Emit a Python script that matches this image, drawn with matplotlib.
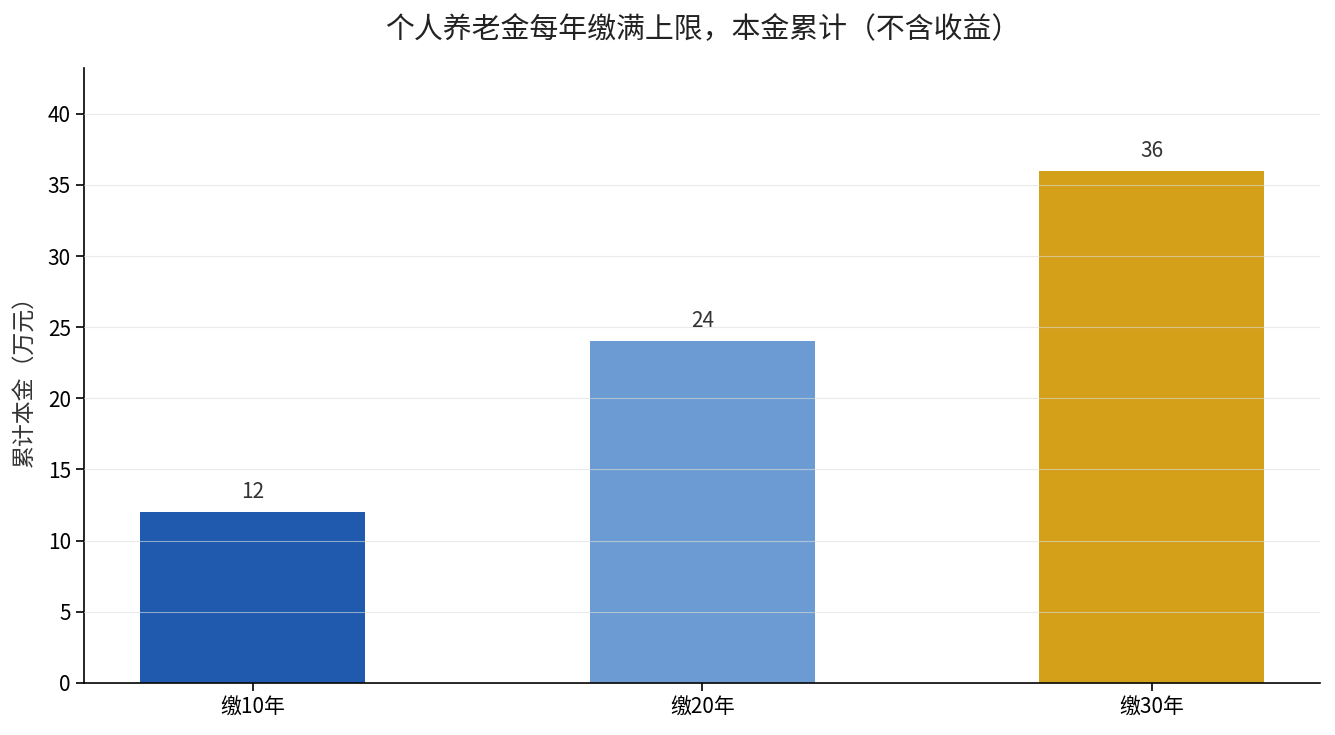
import matplotlib
matplotlib.use("Agg")
import matplotlib.pyplot as plt

plt.rcParams['font.family'] = ['Noto Sans CJK SC', 'DejaVu Sans']

# 数据
categories = ["缴10年", "缴20年", "缴30年"]
totals = [12, 24, 36]
colors = ["#1f5aaf", "#6b9bd2", "#d4a01a"]

fig, ax = plt.subplots(figsize=(13.35, 7.35), dpi=100)

bars = ax.bar(categories, totals, width=0.5, color=colors, zorder=1)
for b, v in zip(bars, totals):
    ax.text(b.get_x() + b.get_width() / 2, v + 0.65, f"{v}",
            ha='center', va='bottom', fontsize=15, color='#333333')

ax.set_ylim(0, max(totals) * 1.2)
ax.set_ylabel("累计本金（万元）", fontsize=16.5, color='#333333', labelpad=8)
ax.set_title("个人养老金每年缴满上限，本金累计（不含收益）", fontsize=20.8, color='#222222', pad=22)

ax.yaxis.grid(True, color='#dddddd', alpha=0.6, linewidth=0.8)
ax.set_axisbelow(False)
ax.spines['top'].set_visible(False)
ax.spines['right'].set_visible(False)
ax.tick_params(axis='both', labelsize=15, length=6, width=1.2)
ax.spines['left'].set_linewidth(1.2)
ax.spines['bottom'].set_linewidth(1.2)

fig.subplots_adjust(left=0.063, right=0.989, top=0.907, bottom=0.071)
fig.savefig("out.png", dpi=100)
